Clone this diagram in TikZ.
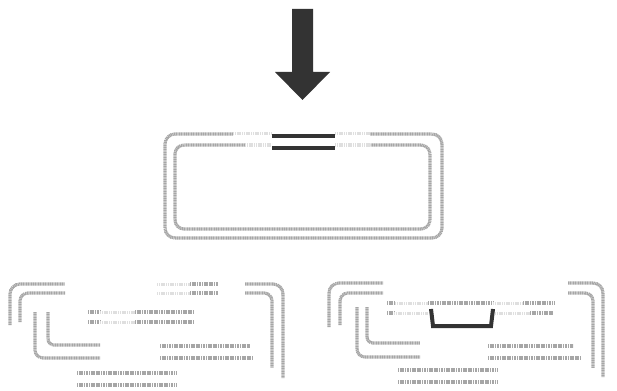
\documentclass[tikz,border=0pt]{standalone}
\begin{document}
\begin{tikzpicture}[x=1pt,y=-1pt,
  dl/.style={draw=gray!70,line width=3.2pt,dash pattern=on 1.2pt off 0.5pt},
  lt/.style={draw=gray!25,line width=3pt,dash pattern=on 1.2pt off 0.6pt},
  blk/.style={draw=black!80,line width=4pt}]
\useasboundingbox (0,0) rectangle (617,390);
% big arrow
\fill[black!80] (292,9) -- (313,9) -- (313,72) -- (330,72) -- (302.5,100) -- (275,72) -- (292,72) -- cycle;
% top box
\draw[dl,rounded corners=10] (233,134) -- (165,134) |- (442,238) |- (370,134);
\draw[lt] (233,134) -- (272,134);
\draw[lt] (335,134) -- (370,134);
\draw[dl,rounded corners=9] (245,145) -- (175,145) |- (430,229) |- (370,145);
\draw[lt] (245,145) -- (272,145);
\draw[lt] (335,145) -- (370,145);
\draw[blk] (272,136) -- (335,136);
\draw[blk] (272,148) -- (335,148);
% bottom-left
\draw[dl,rounded corners=10] (10,325) |- (65,284);
\draw[dl,rounded corners=8] (20,322) |- (65,293);
\draw[lt] (157,284) -- (190,284);
\draw[dl] (190,284) -- (218,284);
\draw[lt] (157,293) -- (190,293);
\draw[dl] (190,293) -- (218,293);
\draw[dl,rounded corners=10] (245,284) -| (283,378);
\draw[dl,rounded corners=8] (245,293) -| (272,368);
\draw[dl] (88,312) -- (100,312);
\draw[lt] (100,312) -- (135,312);
\draw[dl] (135,312) -- (193,312);
\draw[dl] (88,322) -- (100,322);
\draw[lt] (100,322) -- (135,322);
\draw[dl] (135,322) -- (193,322);
\draw[dl,rounded corners=8] (35,312) |- (100,358);
\draw[dl,rounded corners=6] (48,312) |- (100,345);
\draw[dl] (160,346) -- (250,346);
\draw[dl] (160,358) -- (252,358);
\draw[dl] (77,373) -- (177,373);
\draw[dl] (77,385) -- (177,385);
% bottom-right
\draw[dl,rounded corners=10] (329,327) |- (383,283);
\draw[dl,rounded corners=8] (340,325) |- (383,293);
\draw[dl,rounded corners=10] (568,283) -| (603,377);
\draw[dl,rounded corners=8] (568,293) -| (593,368);
\draw[dl] (387,303) -- (395,303);
\draw[lt] (395,303) -- (428,303);
\draw[dl] (428,303) -- (493,303);
\draw[lt] (493,303) -- (523,303);
\draw[dl] (523,303) -- (555,303);
\draw[dl] (387,313) -- (394,313);
\draw[lt] (394,313) -- (428,313);
\draw[lt] (495,313) -- (530,313);
\draw[dl] (530,313) -- (553,313);
\draw[blk,line join=miter] (431,309) -- (433,326) -- (491,326) -- (493,309);
\draw[dl,rounded corners=8] (357,307) |- (420,357);
\draw[dl,rounded corners=6] (367,307) |- (420,343);
\draw[dl] (488,346) -- (573,346);
\draw[dl] (488,358) -- (580,358);
\draw[dl] (398,370) -- (498,370);
\draw[dl] (398,382) -- (498,382);
\end{tikzpicture}
\end{document}
